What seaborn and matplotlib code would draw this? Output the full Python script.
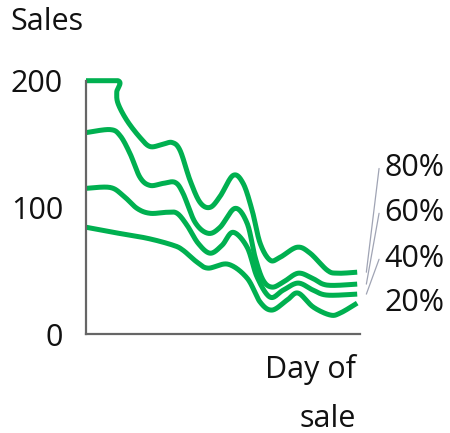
import numpy as np
import pandas as pd
import matplotlib
matplotlib.use("Agg")
import matplotlib.pyplot as plt
import seaborn as sns

# Sales curves by day of sale, one per percentile
p80_day = [0, 3.53, 3.39, 3.53, 4.52, 5.96, 7.06, 8.38, 9.49, 10.37, 11.47, 12.57, 13.68,
           14.78, 16.21, 17.32, 18.31, 19.19, 20.29, 21.4, 23.27, 24.7, 26.58, 27.68, 29.89]
p80_val = [200, 200, 191, 182, 168.5, 155.1, 148, 149.6, 151.2, 144.9, 121.3, 103.9, 100,
           108.7, 125.2, 118.9, 97.6, 71.7, 58.3, 60.6, 68.5, 63.8, 50.4, 48, 48.8]

p60_day = [0, 2.65, 3.75, 4.85, 5.96, 7.06, 8.49, 9.82, 10.7, 12.02, 13.46, 14.78, 16.43,
           17.76, 18.64, 19.52, 20.51, 21.73, 23.38, 24.93, 26.58, 29.89]
p60_val = [159, 161.4, 156.7, 142.5, 123.6, 117.3, 118.9, 119.7, 111, 88.2, 79.5, 84.3, 99.2,
           87.4, 60.6, 42.5, 37, 40.9, 48, 44.1, 38.6, 39.4]

p40_day = [0, 2.65, 4.08, 5.62, 7.06, 8.93, 10.04, 11.14, 12.35, 13.68, 15, 16.21, 17.76,
           18.86, 20.29, 21.73, 23.38, 25.04, 26.58, 29.89]
p40_val = [115, 115.7, 109.4, 99.2, 95.3, 96.1, 95.3, 85.8, 71.7, 63.8, 70.1, 80.3, 68.5,
           44.9, 29.1, 34.6, 40.2, 34.6, 30.7, 31.5]

p20_day = [0, 2.98, 6.73, 9.6, 10.7, 12.24, 13.46, 15.66, 17.76, 19.19, 20.51, 22.17, 23.38,
           25.04, 26.91, 28.01, 29.89]
p20_val = [84.3, 80.3, 75.6, 70.1, 66.1, 56.7, 52, 55.1, 44.1, 25.2, 18.9, 26.8, 32.3,
           21.3, 15, 16.5, 24.4]

series_names = ["80%", "60%", "40%", "20%"]
series_days = [p80_day, p60_day, p40_day, p20_day]
series_vals = [p80_val, p60_val, p40_val, p20_val]
y_ticks = [0, 100, 200]

GREEN = "#00B050"
FONT = ["Open Sans", "DejaVu Sans"]
FS = 22


def catmull_rom(xs, ys, steps=24):
    """Smooth curve through the given points (uniform Catmull-Rom)."""
    p = np.column_stack([xs, ys]).astype(float)
    p = np.vstack([p[0], p, p[-1]])
    out = []
    t = np.linspace(0, 1, steps, endpoint=False)[:, None]
    for i in range(1, len(p) - 2):
        p0, p1, p2, p3 = p[i - 1], p[i], p[i + 1], p[i + 2]
        seg = 0.5 * ((2 * p1) + (-p0 + p2) * t + (2 * p0 - 5 * p1 + 4 * p2 - p3) * t ** 2
                     + (-p0 + 3 * p1 - 3 * p2 + p3) * t ** 3)
        out.append(seg)
    out.append(p[-2][None, :])
    c = np.vstack(out)
    c[:, 1] = np.clip(c[:, 1], None, 200)
    return c[:, 0], c[:, 1]


sns.set_theme(style="white")
plt.rcParams["font.family"] = FONT

fig = plt.figure(figsize=(4.5, 4.33), dpi=100)
ax = fig.add_axes([86 / 450, 99 / 433, 274 / 450, 253.3 / 433])

frames = []
for name, d, v in zip(series_names, series_days, series_vals):
    sx, sy = catmull_rom(d, v)
    frames.append(pd.DataFrame({"day": sx, "sales": sy, "pct": name}))
df = pd.concat(frames, ignore_index=True)

sns.lineplot(data=df, x="day", y="sales", hue="pct", units="pct", estimator=None, sort=False,
             palette=[GREEN] * 4, linewidth=3.6, legend=False, ax=ax, clip_on=False)
for ln in ax.lines:
    ln.set_solid_capstyle("butt")
    ln.set_solid_joinstyle("round")

ax.set_xlim(0, 30.2)
ax.set_ylim(0, 200)
ax.set_xticks([])
ax.set_yticks(y_ticks)
ax.set_yticklabels([str(t) for t in y_ticks], fontsize=FS, family=FONT, color="#111111")
ax.tick_params(axis="y", length=0, pad=16.5)
ax.set_xlabel("")
ax.set_ylabel("")
for side in ["top", "right"]:
    ax.spines[side].set_visible(False)
for side in ["left", "bottom"]:
    ax.spines[side].set_color("#666666")
    ax.spines[side].set_linewidth(1.6)

# Percentile labels at the right, with leader lines
label_y = [130.7, 95.3, 59.0, 24.4]
for name, v, ly in zip(series_names, series_vals, label_y):
    if name != "20%":
        ax.plot([30.9, 32.3], [v[-1], ly], color="#a0a4b4", lw=0.9, clip_on=False)
    ax.text(32.9, ly, name, fontsize=FS, family=FONT, color="#111111", va="center",
            ha="left", clip_on=False)

fig.text(10 / 450, 1 - 7 / 433, "Sales", fontsize=FS, family=FONT, color="#111111",
         ha="left", va="top")
fig.text(356 / 450, 1 - 378 / 433, "Day of", fontsize=FS, family=FONT, color="#111111",
         ha="right", va="baseline")
fig.text(356 / 450, 1 - 427 / 433, "sale", fontsize=FS, family=FONT, color="#111111",
         ha="right", va="baseline")

fig.savefig("out.png", dpi=100, facecolor="white")
